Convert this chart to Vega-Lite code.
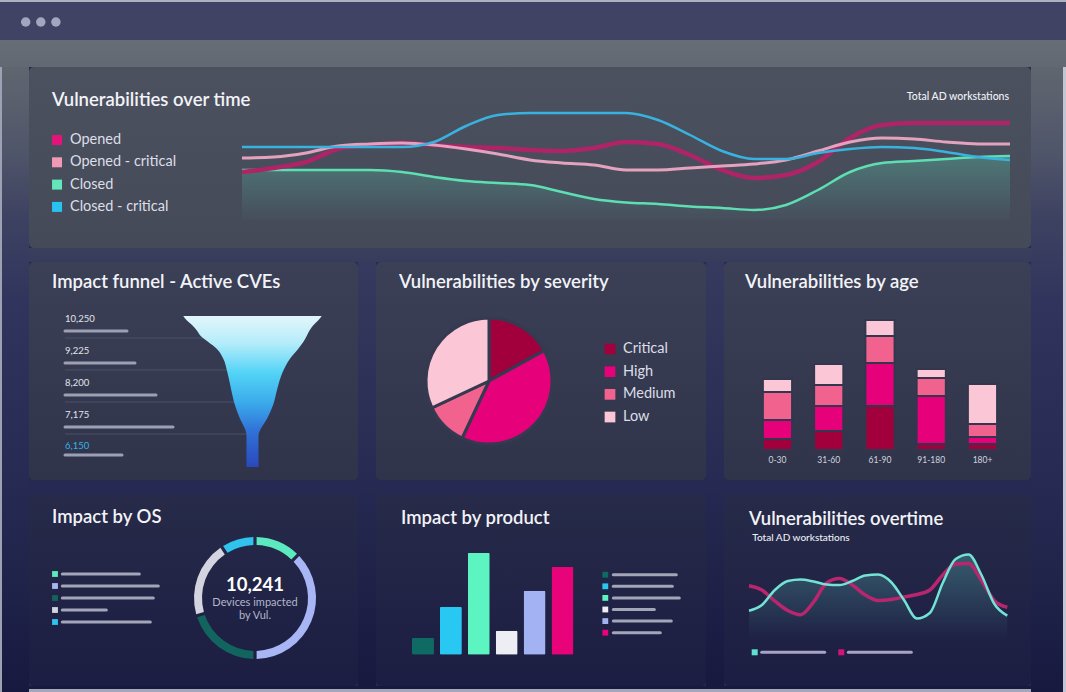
{
  "$schema": "https://vega.github.io/schema/vega-lite/v6.json",
  "padding": 0,
  "background": "#262a52",
  "spacing": 0,
  "config": {
    "view": {"stroke": null},
    "font": "Lato",
    "axis": {"disable": true},
    "legend": {"disable": true},
    "concat": {"spacing": 0},
    "title": {"anchor": "start", "frame": "group", "font": "Lato", "fontSize": 18.5, "fontWeight": 600, "color": "#f2f3f7", "baseline": "alphabetic"}
  },
  "datasets": {
    "top": [
      {"t":0,"opened":58,"openedCrit":72,"closed":60,"closedCrit":83},
      {"t":1,"opened":62,"openedCrit":73,"closed":60,"closedCrit":83},
      {"t":2,"opened":68,"openedCrit":77,"closed":60,"closedCrit":83},
      {"t":3,"opened":81,"openedCrit":84,"closed":60,"closedCrit":83},
      {"t":4,"opened":85,"openedCrit":86,"closed":60,"closedCrit":83},
      {"t":5,"opened":87,"openedCrit":87,"closed":58,"closedCrit":83},
      {"t":6,"opened":85,"openedCrit":85,"closed":53,"closedCrit":88},
      {"t":7,"opened":83,"openedCrit":81,"closed":49,"closedCrit":104},
      {"t":8,"opened":82,"openedCrit":76,"closed":47,"closedCrit":115},
      {"t":9,"opened":80,"openedCrit":70,"closed":45,"closedCrit":117},
      {"t":10,"opened":79,"openedCrit":67,"closed":38,"closedCrit":117},
      {"t":11,"opened":82,"openedCrit":65,"closed":31,"closedCrit":117},
      {"t":12,"opened":88,"openedCrit":60,"closed":27.5,"closedCrit":117},
      {"t":13,"opened":86,"openedCrit":60,"closed":26,"closedCrit":110},
      {"t":14,"opened":75,"openedCrit":62,"closed":23.5,"closedCrit":95},
      {"t":15,"opened":60,"openedCrit":64,"closed":22,"closedCrit":79},
      {"t":16,"opened":52,"openedCrit":66,"closed":20,"closedCrit":71},
      {"t":17,"opened":55,"openedCrit":70,"closed":25,"closedCrit":71},
      {"t":18,"opened":68,"openedCrit":79,"closed":40,"closedCrit":77},
      {"t":19,"opened":92,"openedCrit":88,"closed":58,"closedCrit":81},
      {"t":20,"opened":105,"openedCrit":92,"closed":67,"closedCrit":83},
      {"t":21,"opened":107,"openedCrit":91,"closed":69,"closedCrit":82},
      {"t":22,"opened":107,"openedCrit":88,"closed":71,"closedCrit":78},
      {"t":23,"opened":107,"openedCrit":86,"closed":73,"closedCrit":73},
      {"t":24,"opened":107,"openedCrit":86,"closed":74,"closedCrit":70}
    ],
    "g": [
      {"t":0,"teal":49.3,"mag":74.3},
      {"t":1,"teal":55,"mag":70},
      {"t":2,"teal":70,"mag":59},
      {"t":3,"teal":79,"mag":49.5},
      {"t":4,"teal":80.5,"mag":45.3},
      {"t":5,"teal":78.5,"mag":58},
      {"t":6,"teal":75.5,"mag":77},
      {"t":7,"teal":75,"mag":81.5},
      {"t":8,"teal":79,"mag":75},
      {"t":9,"teal":84.5,"mag":65},
      {"t":10,"teal":85.5,"mag":59.5},
      {"t":11,"teal":78,"mag":60.5},
      {"t":12,"teal":60,"mag":63},
      {"t":13,"teal":41.5,"mag":65.5},
      {"t":14,"teal":47,"mag":70},
      {"t":15,"teal":77,"mag":85},
      {"t":16,"teal":101,"mag":96},
      {"t":17,"teal":105.5,"mag":96.5},
      {"t":18,"teal":85,"mag":79.5},
      {"t":19,"teal":56,"mag":59.3},
      {"t":20,"teal":44.3,"mag":52.7}
    ]
  },
  "vconcat": [
    {"width":1066,"height":2,"data":{"values":[{}]},"mark":{"type":"rect","fill":"#aeb1c2","strokeWidth":0},"encoding":{}},
    {"width":1066,"height":38,"layer":[
      {"data":{"values":[{}]},"mark":{"type":"rect","fill":"#404363","strokeWidth":0},"encoding":{}},
      {"data":{"values":[{"dot":0},{"dot":1},{"dot":2}]},"mark":{"type":"circle","size":90,"opacity":1,"fill":"#a3a6bf"},
       "encoding":{"x":{"field":"dot","type":"quantitative","scale":{"domain":[-1.702,68.9]}},"y":{"datum":0,"type":"quantitative","scale":{"domain":[-0.9,1.0]}}}}
    ]},
    {"width":1066,"height":27,"data":{"values":[{}]},"mark":{"type":"rect","strokeWidth":0,"fill":{"gradient":"linear","x1":0,"y1":0,"x2":0,"y2":1,"stops":[{"offset":0,"color":"#666d76"},{"offset":1,"color":"#626972"}]}},"encoding":{}},
    {"hconcat":[
      {"width":2,"height":625,"data":{"values":[{}]},"mark":{"type":"rect","fill":"#9ea1b4","strokeWidth":0},"encoding":{}},
      {"width":27,"height":625,"data":{"values":[{}]},"mark":{"type":"rect","strokeWidth":0,"fill":{"gradient":"linear","x1":0,"y1":0,"x2":0,"y2":1,"stops":[{"offset":0,"color":"#60666f"},{"offset":0.133,"color":"#50566a"},{"offset":0.245,"color":"#3d4161"},{"offset":0.373,"color":"#31355d"},{"offset":0.533,"color":"#2b2f58"},{"offset":0.661,"color":"#272a52"},{"offset":0.837,"color":"#1f2249"},{"offset":1,"color":"#17193f"}]}},"encoding":{}},
      {"vconcat":[
        {
          "width":1002,"height":181,
          "title":{"text":"Vulnerabilities over time","offset":-42.7,"dx":23},
          "resolve":{"scale":{"x":"independent","y":"independent","color":"independent"}},
          "layer":[
            {"data":{"values":[{}]},"mark":{"type":"rect","cornerRadius":5,"strokeWidth":0,"fill":{"gradient":"linear","x1":0,"y1":0,"x2":0,"y2":1,"stops":[{"offset":0,"color":"#4c5160"},{"offset":1,"color":"#454a59"}]}},"encoding":{}},
            {"data":{"name":"top"},"mark":{"type":"area","interpolate":"monotone","fill":{"gradient":"linear","x1":0,"y1":0,"x2":0,"y2":1,"stops":[{"offset":0,"color":"rgba(86,195,165,0.36)"},{"offset":1,"color":"rgba(86,195,165,0.02)"}]}},
             "encoding":{"x":{"field":"t","type":"quantitative","scale":{"domain":[-6.656,24.656]}},"y":{"field":"closed","type":"quantitative","scale":{"domain":[-18,163]}},"y2":{"datum":10}}},
            {"data":{"name":"top"},"mark":{"type":"line","interpolate":"monotone","stroke":"#5ddfb3","strokeWidth":2.5},
             "encoding":{"x":{"field":"t","type":"quantitative","scale":{"domain":[-6.656,24.656]}},"y":{"field":"closed","type":"quantitative","scale":{"domain":[-18,163]}}}},
            {"data":{"name":"top"},"mark":{"type":"line","interpolate":"monotone","stroke":"#ae2467","strokeWidth":4.5},
             "encoding":{"x":{"field":"t","type":"quantitative","scale":{"domain":[-6.656,24.656]}},"y":{"field":"opened","type":"quantitative","scale":{"domain":[-18,163]}}}},
            {"data":{"name":"top"},"mark":{"type":"line","interpolate":"monotone","stroke":"#e3a2be","strokeWidth":3},
             "encoding":{"x":{"field":"t","type":"quantitative","scale":{"domain":[-6.656,24.656]}},"y":{"field":"openedCrit","type":"quantitative","scale":{"domain":[-18,163]}}}},
            {"data":{"name":"top"},"mark":{"type":"line","interpolate":"monotone","stroke":"#38b3df","strokeWidth":2.5},
             "encoding":{"x":{"field":"t","type":"quantitative","scale":{"domain":[-6.656,24.656]}},"y":{"field":"closedCrit","type":"quantitative","scale":{"domain":[-18,163]}}}},
            {"data":{"values":[{"series":"Opened","rank":0},{"series":"Opened - critical","rank":1},{"series":"Closed","rank":2},{"series":"Closed - critical","rank":3}]},
             "mark":{"type":"square","size":100,"opacity":1,"filled":true},
             "encoding":{"x":{"datum":-5.78,"type":"quantitative","scale":{"domain":[-6.656,24.656]}},"y":{"field":"rank","type":"quantitative","scale":{"domain":[-3.274,4.843],"reverse":true}},
               "color":{"field":"series","type":"nominal","scale":{"domain":["Opened","Opened - critical","Closed","Closed - critical"],"range":["#e3137a","#f09ab6","#63e6bb","#29c3f0"]}}}},
            {"data":{"values":[{"series":"Opened","rank":0},{"series":"Opened - critical","rank":1},{"series":"Closed","rank":2},{"series":"Closed - critical","rank":3}]},
             "mark":{"type":"text","align":"left","baseline":"middle","fontSize":14.5,"fill":"#dcdfe7"},
             "encoding":{"x":{"datum":-5.375,"type":"quantitative","scale":{"domain":[-6.656,24.656]}},"y":{"field":"rank","type":"quantitative","scale":{"domain":[-3.274,4.843],"reverse":true}},"text":{"field":"series"}}},
            {"data":{"values":[{"label":"Total AD workstations"}]},
             "mark":{"type":"text","align":"right","baseline":"middle","fontSize":10.5,"fontWeight":500,"fill":"#f0f1f5"},
             "encoding":{"x":{"datum":23.97,"type":"quantitative","scale":{"domain":[-6.656,24.656]}},"y":{"datum":133,"type":"quantitative","scale":{"domain":[-18,163]}},"text":{"field":"label"}}}
          ]
        },
        {"width":1002,"height":14,"data":{"values":[{}]},"mark":{"type":"rect","strokeWidth":0,"fill":{"gradient":"linear","x1":0,"y1":0,"x2":0,"y2":1,"stops":[{"offset":0,"color":"#3b3f5d"},{"offset":1,"color":"#383c5c"}]}},"encoding":{}},
        {"hconcat":[
          {
            "width":329,"height":218,
            "title":{"text":"Impact funnel - Active CVEs","offset":-29.7,"dx":23},
            "resolve":{"scale":{"x":"independent","y":"independent","color":"independent"}},
            "layer":[
              {"data":{"values":[{}]},"mark":{"type":"rect","cornerRadius":5,"strokeWidth":0,"fill":{"gradient":"linear","x1":0,"y1":0,"x2":0,"y2":1,"stops":[{"offset":0,"color":"#3b4056"},{"offset":1,"color":"#2f344b"}]}},"encoding":{}},
              {"data":{"values":[{"lvl":1,"start":0,"end":192},{"lvl":2,"start":0,"end":192},{"lvl":3,"start":0,"end":192},{"lvl":4,"start":0,"end":192}]},
               "mark":{"type":"rule","stroke":"#4a5069","strokeWidth":1},
               "encoding":{"x":{"field":"start","type":"quantitative","scale":{"domain":[-36,293]}},"x2":{"field":"end"},"y":{"field":"lvl","type":"quantitative","scale":{"domain":[-1.375,5.4375],"reverse":true}}}},
              {"data":{"values":[
                {"lvl":0.3125,"l":118.3,"r":256.7},{"lvl":0.448,"l":121.7,"r":253.3},{"lvl":0.604,"l":127.3,"r":248.3},{"lvl":0.76,"l":131.7,"r":244.7},
                {"lvl":0.938,"l":135.7,"r":241.7},{"lvl":1.125,"l":143.3,"r":238.3},{"lvl":1.333,"l":151.7,"r":233.3},{"lvl":1.646,"l":158.3,"r":225},
                {"lvl":2.063,"l":162.3,"r":217.7},{"lvl":2.583,"l":166,"r":212.3},{"lvl":3.104,"l":170,"r":208},{"lvl":3.521,"l":175,"r":202},
                {"lvl":3.938,"l":181,"r":194.3},{"lvl":4.05,"l":181.5,"r":193.5},{"lvl":5.03,"l":181.5,"r":193.5}]},
               "mark":{"type":"area","orient":"horizontal","interpolate":"monotone","fill":{"gradient":"linear","x1":0,"y1":0,"x2":0,"y2":1,"stops":[{"offset":0,"color":"#e3f6fb"},{"offset":0.18,"color":"#b4ecfa"},{"offset":0.38,"color":"#52d3f6"},{"offset":0.58,"color":"#3aa9ea"},{"offset":0.75,"color":"#3174d9"},{"offset":1,"color":"#2a48bd"}]}},
               "encoding":{"y":{"field":"lvl","type":"quantitative","scale":{"domain":[-1.375,5.4375],"reverse":true}},"x":{"field":"l","type":"quantitative","scale":{"domain":[-36,293]}},"x2":{"field":"r"}}},
              {"data":{"values":[{"stage":0,"label":"10,250","start":0,"len":62},{"stage":1,"label":"9,225","start":0,"len":70},{"stage":2,"label":"8,200","start":0,"len":91},{"stage":3,"label":"7,175","start":0,"len":108}]},
               "mark":{"type":"rule","stroke":"#9d9fb3","strokeWidth":3,"strokeCap":"round","yOffset":25},
               "encoding":{"x":{"field":"start","type":"quantitative","scale":{"domain":[-36,293]}},"x2":{"field":"len"},"y":{"field":"stage","type":"quantitative","scale":{"domain":[-1.375,5.4375],"reverse":true}}}},
              {"data":{"values":[{"stage":4,"label":"6,150","start":0,"len":57}]},
               "mark":{"type":"rule","stroke":"#9d9fb3","strokeWidth":3,"strokeCap":"round","yOffset":21},
               "encoding":{"x":{"field":"start","type":"quantitative","scale":{"domain":[-36,293]}},"x2":{"field":"len"},"y":{"field":"stage","type":"quantitative","scale":{"domain":[-1.375,5.4375],"reverse":true}}}},
              {"data":{"values":[{"stage":0,"label":"10,250","start":0},{"stage":1,"label":"9,225","start":0},{"stage":2,"label":"8,200","start":0},{"stage":3,"label":"7,175","start":0}]},
               "mark":{"type":"text","align":"left","baseline":"middle","fontSize":9.5,"yOffset":13,"fill":"#e3e4eb"},
               "encoding":{"x":{"field":"start","type":"quantitative","scale":{"domain":[-36,293]}},"y":{"field":"stage","type":"quantitative","scale":{"domain":[-1.375,5.4375],"reverse":true}},"text":{"field":"label"}}},
              {"data":{"values":[{"stage":4,"label":"6,150","start":0}]},
               "mark":{"type":"text","align":"left","baseline":"middle","fontSize":9.5,"yOffset":12,"fill":"#33b3e3"},
               "encoding":{"x":{"field":"start","type":"quantitative","scale":{"domain":[-36,293]}},"y":{"field":"stage","type":"quantitative","scale":{"domain":[-1.375,5.4375],"reverse":true}},"text":{"field":"label"}}}
            ]
          },
          {"width":18,"height":218,"data":{"values":[{}]},"mark":{"type":"rect","strokeWidth":0,"fill":{"gradient":"linear","x1":0,"y1":0,"x2":0,"y2":1,"stops":[{"offset":0,"color":"#363a5e"},{"offset":1,"color":"#272a52"}]}},"encoding":{}},
          {
            "width":330,"height":218,
            "title":{"text":"Vulnerabilities by severity","offset":-29.7,"dx":23},
            "resolve":{"scale":{"x":"independent","y":"independent","color":"independent"}},
            "layer":[
              {"data":{"values":[{}]},"mark":{"type":"rect","cornerRadius":5,"strokeWidth":0,"fill":{"gradient":"linear","x1":0,"y1":0,"x2":0,"y2":1,"stops":[{"offset":0,"color":"#3b4056"},{"offset":1,"color":"#2f344b"}]}},"encoding":{}},
              {"data":{"values":[{"sev":"Critical","n":17,"rank":0},{"sev":"High","n":40,"rank":1},{"sev":"Medium","n":11,"rank":2},{"sev":"Low","n":32,"rank":3}]},
               "mark":{"type":"arc","outerRadius":63,"stroke":"#353a50","strokeWidth":3},
               "encoding":{"theta":{"field":"n","type":"quantitative","stack":true},"order":{"field":"rank","type":"quantitative"},
                 "color":{"field":"sev","type":"nominal","scale":{"domain":["Critical","High","Medium","Low"],"range":["#a1003c","#e6007a","#f2628f","#fbc6d6"]}},
                 "x":{"datum":113,"type":"quantitative","scale":{"domain":[0,330]}},"y":{"datum":119,"type":"quantitative","scale":{"domain":[0,218],"reverse":true}}}},
              {"data":{"values":[{"sev":"Critical","rank":0},{"sev":"High","rank":1},{"sev":"Medium","rank":2},{"sev":"Low","rank":3}]},
               "mark":{"type":"square","size":115,"opacity":1,"filled":true},
               "encoding":{"x":{"datum":234,"type":"quantitative","scale":{"domain":[0,330]}},"y":{"field":"rank","type":"quantitative","scale":{"domain":[-3.838,5.778],"reverse":true}},
                 "color":{"field":"sev","type":"nominal","scale":{"domain":["Critical","High","Medium","Low"],"range":["#a1003c","#e6007a","#f2628f","#fbc6d6"]}}}},
              {"data":{"values":[{"sev":"Critical","rank":0},{"sev":"High","rank":1},{"sev":"Medium","rank":2},{"sev":"Low","rank":3}]},
               "mark":{"type":"text","align":"left","baseline":"middle","fontSize":14.5,"fill":"#dcdee7"},
               "encoding":{"x":{"datum":247,"type":"quantitative","scale":{"domain":[0,330]}},"y":{"field":"rank","type":"quantitative","scale":{"domain":[-3.838,5.778],"reverse":true}},"text":{"field":"sev"}}}
            ]
          },
          {"width":18,"height":218,"data":{"values":[{}]},"mark":{"type":"rect","strokeWidth":0,"fill":{"gradient":"linear","x1":0,"y1":0,"x2":0,"y2":1,"stops":[{"offset":0,"color":"#363a5e"},{"offset":1,"color":"#272a52"}]}},"encoding":{}},
          {
            "width":307,"height":218,
            "title":{"text":"Vulnerabilities by age","offset":-29.7,"dx":21},
            "layer":[
              {"data":{"values":[{}]},"mark":{"type":"rect","cornerRadius":5,"strokeWidth":0,"fill":{"gradient":"linear","x1":0,"y1":0,"x2":0,"y2":1,"stops":[{"offset":0,"color":"#3b4056"},{"offset":1,"color":"#2f344b"}]}},"encoding":{}},
              {"data":{"values":[
                {"age":"0-30","sev":"Critical","n":11,"rank":0},{"age":"0-30","sev":"High","n":19,"rank":1},{"age":"0-30","sev":"Medium","n":28,"rank":2},{"age":"0-30","sev":"Low","n":13,"rank":3},
                {"age":"31-60","sev":"Critical","n":19,"rank":0},{"age":"31-60","sev":"High","n":25,"rank":1},{"age":"31-60","sev":"Medium","n":21,"rank":2},{"age":"31-60","sev":"Low","n":21,"rank":3},
                {"age":"61-90","sev":"Critical","n":44,"rank":0},{"age":"61-90","sev":"High","n":43,"rank":1},{"age":"61-90","sev":"Medium","n":27,"rank":2},{"age":"61-90","sev":"Low","n":16,"rank":3},
                {"age":"91-180","sev":"Critical","n":6,"rank":0},{"age":"91-180","sev":"High","n":48,"rank":1},{"age":"91-180","sev":"Medium","n":18,"rank":2},{"age":"91-180","sev":"Low","n":9,"rank":3},
                {"age":"180+","sev":"Critical","n":6,"rank":0},{"age":"180+","sev":"High","n":7,"rank":1},{"age":"180+","sev":"Medium","n":13,"rank":2},{"age":"180+","sev":"Low","n":40,"rank":3}]},
               "mark":{"type":"bar","stroke":"#32374d","strokeWidth":1.8},
               "encoding":{"x":{"field":"age","type":"nominal","sort":null,"scale":{"domain":["0-30","31-60","61-90","91-180","180+"],"paddingInner":0.434,"paddingOuter":0.712,"align":0.534}},
                 "y":{"field":"n","type":"quantitative","stack":true,"scale":{"domain":[-30,188],"nice":false,"zero":false}},
                 "color":{"field":"sev","type":"nominal","scale":{"domain":["Critical","High","Medium","Low"],"range":["#a1003c","#e6007a","#f2628f","#fbc6d6"]}},
                 "order":{"field":"rank","type":"quantitative"}}},
              {"data":{"values":[{"age":"0-30","v":-10},{"age":"31-60","v":-10},{"age":"61-90","v":-10},{"age":"91-180","v":-10},{"age":"180+","v":-10}]},
               "mark":{"type":"text","baseline":"middle","align":"center","fontSize":8.5,"fill":"#d2d4de"},
               "encoding":{"x":{"field":"age","type":"nominal","sort":null,"scale":{"domain":["0-30","31-60","61-90","91-180","180+"],"paddingInner":0.434,"paddingOuter":0.712,"align":0.534}},
                 "y":{"field":"v","type":"quantitative","scale":{"domain":[-30,188],"nice":false,"zero":false}},"text":{"field":"age"}}}
            ]
          }
        ],"spacing":0,"bounds":"flush"},
        {"width":1002,"height":14,"data":{"values":[{}]},"mark":{"type":"rect","fill":"#262951","strokeWidth":0},"encoding":{}},
        {"hconcat":[
          {
            "width":329,"height":192,
            "title":{"text":"Impact by OS","offset":-32.7,"dx":23},
            "resolve":{"scale":{"x":"independent","y":"independent","color":"independent"}},
            "layer":[
              {"data":{"values":[{}]},"mark":{"type":"rect","cornerRadius":5,"strokeWidth":0,"fill":{"gradient":"linear","x1":0,"y1":0,"x2":0,"y2":1,"stops":[{"offset":0,"color":"#272b49"},{"offset":1,"color":"#1b1d42"}]}},"encoding":{}},
              {"data":{"values":[{"os":"OS 1","n":45,"rank":0},{"os":"OS 2","n":135,"rank":1},{"os":"OS 3","n":73,"rank":2},{"os":"OS 4","n":74,"rank":3},{"os":"OS 5","n":33,"rank":4}]},
               "mark":{"type":"arc","innerRadius":53,"outerRadius":61,"padAngle":0.04},
               "encoding":{"theta":{"field":"n","type":"quantitative","stack":true},"order":{"field":"rank","type":"quantitative"},
                 "color":{"field":"os","type":"nominal","scale":{"domain":["OS 1","OS 2","OS 3","OS 4","OS 5"],"range":["#5de9bf","#a8b6f5","#12655f","#d3d4df","#30c3ee"]}},
                 "x":{"datum":226,"type":"quantitative","scale":{"domain":[0,329]}},"y":{"datum":104,"type":"quantitative","scale":{"domain":[0,192],"reverse":true}}}},
              {"data":{"values":[{"v":"10,241"}]},
               "mark":{"type":"text","align":"center","baseline":"alphabetic","fontSize":18.5,"fontWeight":"bold","fill":"#ffffff"},
               "encoding":{"x":{"datum":226,"type":"quantitative","scale":{"domain":[0,329]}},"y":{"datum":96.7,"type":"quantitative","scale":{"domain":[0,192],"reverse":true}},"text":{"field":"v"}}},
              {"data":{"values":[{"v":"Devices impacted\nby Vul."}]},
               "mark":{"type":"text","align":"center","baseline":"alphabetic","fontSize":11,"lineBreak":"\n","lineHeight":13.5,"fill":"#b3b6ca"},
               "encoding":{"x":{"datum":226,"type":"quantitative","scale":{"domain":[0,329]}},"y":{"datum":111.7,"type":"quantitative","scale":{"domain":[0,192],"reverse":true}},"text":{"field":"v"}}},
              {"data":{"values":[{"os":"OS 1","rank":0,"start":0,"len":77},{"os":"OS 2","rank":1,"start":0,"len":96},{"os":"OS 3","rank":2,"start":0,"len":91},{"os":"OS 4","rank":3,"start":0,"len":44},{"os":"OS 5","rank":4,"start":0,"len":88}]},
               "mark":{"type":"square","size":34,"opacity":1,"filled":true,"xOffset":-7.3},
               "encoding":{"x":{"field":"start","type":"quantitative","scale":{"domain":[-33.3,295.7]}},"y":{"field":"rank","type":"quantitative","scale":{"domain":[-6.667,9.333],"reverse":true}},
                 "color":{"field":"os","type":"nominal","scale":{"domain":["OS 1","OS 2","OS 3","OS 4","OS 5"],"range":["#5de9bf","#a8b6f5","#12655f","#d3d4df","#30c3ee"]}}}},
              {"data":{"values":[{"os":"OS 1","rank":0,"start":0,"len":77},{"os":"OS 2","rank":1,"start":0,"len":96},{"os":"OS 3","rank":2,"start":0,"len":91},{"os":"OS 4","rank":3,"start":0,"len":44},{"os":"OS 5","rank":4,"start":0,"len":88}]},
               "mark":{"type":"rule","stroke":"#a3a5b9","strokeWidth":3,"strokeCap":"round"},
               "encoding":{"x":{"field":"start","type":"quantitative","scale":{"domain":[-33.3,295.7]}},"x2":{"field":"len"},"y":{"field":"rank","type":"quantitative","scale":{"domain":[-6.667,9.333],"reverse":true}}}}
            ]
          },
          {"width":18,"height":192,"data":{"values":[{}]},"mark":{"type":"rect","strokeWidth":0,"fill":{"gradient":"linear","x1":0,"y1":0,"x2":0,"y2":1,"stops":[{"offset":0,"color":"#252850"},{"offset":1,"color":"#17193f"}]}},"encoding":{}},
          {
            "width":330,"height":192,
            "title":{"text":"Impact by product","offset":-33.7,"dx":25},
            "resolve":{"scale":{"x":"independent","y":"independent","color":"independent"}},
            "layer":[
              {"data":{"values":[{}]},"mark":{"type":"rect","cornerRadius":5,"strokeWidth":0,"fill":{"gradient":"linear","x1":0,"y1":0,"x2":0,"y2":1,"stops":[{"offset":0,"color":"#272b49"},{"offset":1,"color":"#1b1d42"}]}},"encoding":{}},
              {"data":{"values":[{"p":"Product 1","i":0,"n":17},{"p":"Product 2","i":1,"n":48},{"p":"Product 3","i":2,"n":102},{"p":"Product 4","i":3,"n":24},{"p":"Product 5","i":4,"n":64},{"p":"Product 6","i":5,"n":88}]},
               "mark":{"type":"bar","cornerRadius":1.5,"width":22},
               "encoding":{"x":{"field":"i","type":"quantitative","scale":{"domain":[-1.5045,9.962]}},
                 "y":{"field":"n","type":"quantitative","scale":{"domain":[-31.3,160.7],"nice":false,"zero":false}},
                 "color":{"field":"p","type":"nominal","scale":{"domain":["Product 1","Product 2","Product 3","Product 4","Product 5","Product 6"],"range":["#0f6a63","#28c8f3","#5cf4c1","#eceef3","#a3b2f3","#e8037b"]}}}},
              {"data":{"values":[{"p":"Product 1","rank":0,"start":0,"len":63},{"p":"Product 2","rank":1,"start":0,"len":59},{"p":"Product 3","rank":2,"start":0,"len":66},{"p":"Product 4","rank":3,"start":0,"len":41},{"p":"Product 5","rank":4,"start":0,"len":58},{"p":"Product 6","rank":5,"start":0,"len":47}]},
               "mark":{"type":"square","size":34,"opacity":1,"filled":true,"xOffset":-8},
               "encoding":{"x":{"field":"start","type":"quantitative","scale":{"domain":[-237.3,92.7]}},"y":{"field":"rank","type":"quantitative","scale":{"domain":[-6.957,9.595],"reverse":true}},
                 "color":{"field":"p","type":"nominal","scale":{"domain":["Product 1","Product 2","Product 3","Product 4","Product 5","Product 6"],"range":["#0f6a63","#28c8f3","#5cf4c1","#eceef3","#a3b2f3","#e8037b"]}}}},
              {"data":{"values":[{"p":"Product 1","rank":0,"start":0,"len":63},{"p":"Product 2","rank":1,"start":0,"len":59},{"p":"Product 3","rank":2,"start":0,"len":66},{"p":"Product 4","rank":3,"start":0,"len":41},{"p":"Product 5","rank":4,"start":0,"len":58},{"p":"Product 6","rank":5,"start":0,"len":47}]},
               "mark":{"type":"rule","stroke":"#a3a5b9","strokeWidth":3,"strokeCap":"round"},
               "encoding":{"x":{"field":"start","type":"quantitative","scale":{"domain":[-237.3,92.7]}},"x2":{"field":"len"},"y":{"field":"rank","type":"quantitative","scale":{"domain":[-6.957,9.595],"reverse":true}}}}
            ]
          },
          {"width":18,"height":192,"data":{"values":[{}]},"mark":{"type":"rect","strokeWidth":0,"fill":{"gradient":"linear","x1":0,"y1":0,"x2":0,"y2":1,"stops":[{"offset":0,"color":"#252850"},{"offset":1,"color":"#17193f"}]}},"encoding":{}},
          {
            "width":307,"height":192,
            "title":{"text":"Vulnerabilities overtime","offset":-34.7,"dx":25},
            "resolve":{"scale":{"x":"independent","y":"independent","color":"independent"}},
            "layer":[
              {"data":{"values":[{}]},"mark":{"type":"rect","cornerRadius":5,"strokeWidth":0,"fill":{"gradient":"linear","x1":0,"y1":0,"x2":0,"y2":1,"stops":[{"offset":0,"color":"#272b49"},{"offset":1,"color":"#1b1d42"}]}},"encoding":{}},
              {"data":{"values":[{"label":"Total AD workstations","t":0.256,"v":119.3}]},
               "mark":{"type":"text","align":"left","baseline":"alphabetic","fontSize":10,"fontWeight":500,"fill":"#eceef4"},
               "encoding":{"x":{"field":"t","type":"quantitative","scale":{"domain":[-1.936,21.835]}},"y":{"field":"v","type":"quantitative","scale":{"domain":[-26,166]}},"text":{"field":"label"}}},
              {"data":{"name":"g"},"mark":{"type":"area","interpolate":"monotone","fill":{"gradient":"linear","x1":0,"y1":0,"x2":0,"y2":1,"stops":[{"offset":0,"color":"rgba(95,205,195,0.32)"},{"offset":1,"color":"rgba(95,205,195,0)"}]}},
               "encoding":{"x":{"field":"t","type":"quantitative","scale":{"domain":[-1.936,21.835]}},"y":{"field":"teal","type":"quantitative","scale":{"domain":[-26,166]}},"y2":{"datum":20}}},
              {"data":{"name":"g"},"mark":{"type":"line","interpolate":"monotone","stroke":"#b8266e","strokeWidth":3.5},
               "encoding":{"x":{"field":"t","type":"quantitative","scale":{"domain":[-1.936,21.835]}},"y":{"field":"mag","type":"quantitative","scale":{"domain":[-26,166]}}}},
              {"data":{"name":"g"},"mark":{"type":"line","interpolate":"monotone","stroke":"#72e3d4","strokeWidth":2.5},
               "encoding":{"x":{"field":"t","type":"quantitative","scale":{"domain":[-1.936,21.835]}},"y":{"field":"teal","type":"quantitative","scale":{"domain":[-26,166]}}}},
              {"data":{"values":[{"k":0,"s":"a","v":7.7},{"k":1,"s":"b","v":7.7}]},
               "mark":{"type":"square","size":36,"opacity":1,"filled":true},
               "encoding":{"x":{"field":"k","type":"quantitative","scale":{"domain":[-0.3545,3.191]}},"y":{"field":"v","type":"quantitative","scale":{"domain":[-26,166]}},
                 "color":{"field":"s","type":"nominal","scale":{"domain":["a","b"],"range":["#5fe0d0","#d4137a"]}}}},
              {"data":{"values":[{"k":0,"v":7.7},{"k":1,"v":7.7}]},
               "mark":{"type":"rule","stroke":"#a7a3c4","strokeWidth":3,"strokeCap":"round","xOffset":7,"x2Offset":70},
               "encoding":{"x":{"field":"k","type":"quantitative","scale":{"domain":[-0.3545,3.191]}},"x2":{"field":"k"},"y":{"field":"v","type":"quantitative","scale":{"domain":[-26,166]}}}}
            ]
          }
        ],"spacing":0,"bounds":"flush"},
        {"width":1002,"height":6,"data":{"values":[{}]},"mark":{"type":"rect","strokeWidth":0,"fill":{"gradient":"linear","x1":0,"y1":0,"x2":0,"y2":1,"stops":[{"offset":0,"color":"#17193f"},{"offset":0.45,"color":"#17193f"},{"offset":0.55,"color":"#a4a7bb"},{"offset":1,"color":"#a4a7bb"}]}},"encoding":{}}
      ],"spacing":0},
      {"width":32,"height":625,"data":{"values":[{}]},"mark":{"type":"rect","strokeWidth":0,"fill":{"gradient":"linear","x1":0,"y1":0,"x2":0,"y2":1,"stops":[{"offset":0,"color":"#60666f"},{"offset":0.133,"color":"#50566a"},{"offset":0.245,"color":"#3d4161"},{"offset":0.373,"color":"#31355d"},{"offset":0.533,"color":"#2b2f58"},{"offset":0.661,"color":"#272a52"},{"offset":0.837,"color":"#1f2249"},{"offset":1,"color":"#17193f"}]}},"encoding":{}},
      {"width":3,"height":625,"data":{"values":[{}]},"mark":{"type":"rect","fill":"#c3c6d2","strokeWidth":0},"encoding":{}}
    ],"spacing":0}
  ]
}
